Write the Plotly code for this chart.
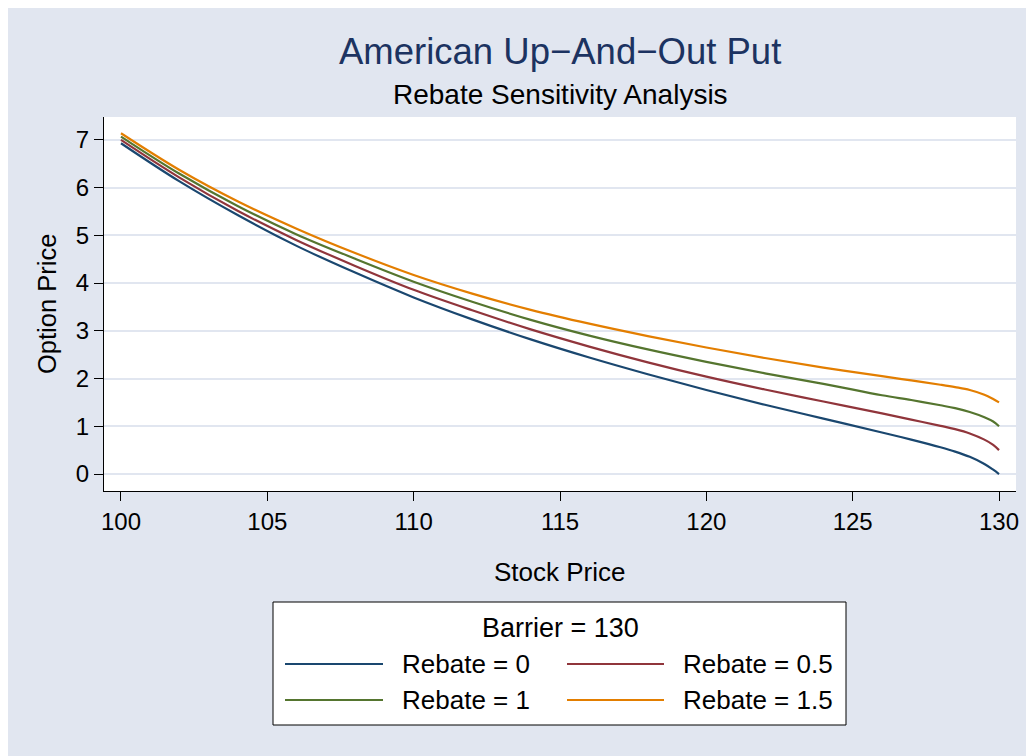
import plotly.graph_objects as go

# stock price grid and option prices (barrier = 130)
stock_price = [100, 102, 104, 106, 108, 110, 112, 114, 116, 118, 120, 122,
               124, 126, 127, 128, 128.5, 129, 129.5, 129.8, 130]
rebate_0 = [6.93, 6.13, 5.42, 4.78, 4.22, 3.70, 3.24, 2.82, 2.44, 2.09, 1.76, 1.45,
            1.16, 0.87, 0.72, 0.56, 0.47, 0.36, 0.21, 0.09, 0.00]
rebate_05 = [7.00, 6.21, 5.51, 4.90, 4.36, 3.86, 3.43, 3.03, 2.67, 2.34, 2.04, 1.77,
             1.52, 1.27, 1.14, 1.01, 0.94, 0.85, 0.72, 0.61, 0.50]
rebate_1 = [7.07, 6.29, 5.61, 5.02, 4.51, 4.03, 3.61, 3.23, 2.90, 2.61, 2.35, 2.11,
            1.89, 1.65, 1.55, 1.44, 1.38, 1.30, 1.19, 1.10, 1.00]
rebate_15 = [7.14, 6.37, 5.71, 5.14, 4.63, 4.17, 3.78, 3.44, 3.15, 2.89, 2.65, 2.43,
             2.23, 2.05, 1.96, 1.87, 1.82, 1.76, 1.66, 1.57, 1.50]

series_names = ["Rebate = 0", "Rebate = 0.5", "Rebate = 1", "Rebate = 1.5"]
series_values = [rebate_0, rebate_05, rebate_1, rebate_15]
series_colors = ["#1A476F", "#90353B", "#55752F", "#E37E00"]

x_ticks = [100, 105, 110, 115, 120, 125, 130]
y_ticks = [0, 1, 2, 3, 4, 5, 6, 7]

FONT = "Liberation Sans, Arial, Helvetica, sans-serif"
BG = "#E1E6F0"

W, H = 1034, 756
OFF = 8  # page body margin: screen pixel = figure pixel + 8
# plot area as seen on screen
L, R, T, B = 104, 1016, 117, 491


def px(x):
    return (x - L) / (R - L)


def py(y):
    return (B - y) / (B - T)


fig = go.Figure()
for name, vals, col in zip(series_names, series_values, series_colors):
    fig.add_trace(go.Scatter(
        x=stock_price, y=vals, mode="lines", name=name,
        line=dict(color=col, width=2.2, shape="spline", smoothing=1.0),
        showlegend=False,
    ))

shapes = [
    # legend box
    dict(type="rect", xref="paper", yref="paper",
         x0=px(273), x1=px(846), y0=py(725), y1=py(602),
         fillcolor="white", line=dict(color="black", width=1)),
]

annotations = [
    dict(text="American Up\u2212And\u2212Out Put", x=px(560), y=py(52),
         font=dict(size=36.5, color="#1C3361", family=FONT)),
    dict(text="Rebate Sensitivity Analysis", x=px(560), y=py(94),
         font=dict(size=28, color="black", family=FONT)),
    dict(text="Stock Price", x=px(560), y=py(572),
         font=dict(size=26, color="black", family=FONT)),
    dict(text="Option Price", x=px(47), y=py(304), textangle=-90,
         font=dict(size=25.5, color="black", family=FONT)),
    dict(text="Barrier = 130", x=px(560), y=py(628),
         font=dict(size=27, color="black", family=FONT)),
]

# legend entries, two columns
col_lines = [(285, 383), (567, 664)]
col_text = [400, 681]
row_y = [664, 700]
for i, (name, col) in enumerate(zip(series_names, series_colors)):
    c, r = i % 2, i // 2
    shapes.append(dict(type="line", xref="paper", yref="paper",
                       x0=px(col_lines[c][0]), x1=px(col_lines[c][1]),
                       y0=py(row_y[r]), y1=py(row_y[r]),
                       line=dict(color=col, width=2.2)))
    annotations.append(dict(text=name, x=px(col_text[c]), y=py(row_y[r]),
                            xanchor="left",
                            font=dict(size=26, color="black", family=FONT)))

for a in annotations:
    a.update(xref="paper", yref="paper", showarrow=False)
    a.setdefault("xanchor", "center")
    a.setdefault("yanchor", "middle")

fig.update_layout(
    width=W, height=H,
    margin=dict(l=L - OFF, r=W - (R - OFF), t=T - OFF, b=H - (B - OFF)),
    paper_bgcolor=BG, plot_bgcolor="white",
    font=dict(family=FONT, color="black"),
    shapes=shapes, annotations=annotations,
)
fig.update_xaxes(
    range=[99.42, 130.58], tickvals=x_ticks, showgrid=False, zeroline=False,
    showline=True, linecolor="black", linewidth=1.3,
    ticks="outside", ticklen=9, tickwidth=1.3, tickcolor="black",
    tickfont=dict(size=24, family=FONT, color="black"),
)
fig.update_yaxes(
    range=[-0.356, 7.48], tickvals=y_ticks, showgrid=True, gridcolor=BG,
    gridwidth=2, zeroline=False,
    showline=True, linecolor="black", linewidth=1.3,
    ticks="outside", ticklen=9, tickwidth=1.3, tickcolor="black",
    tickfont=dict(size=24, family=FONT, color="black"),
)

fig.write_html("out.html")
